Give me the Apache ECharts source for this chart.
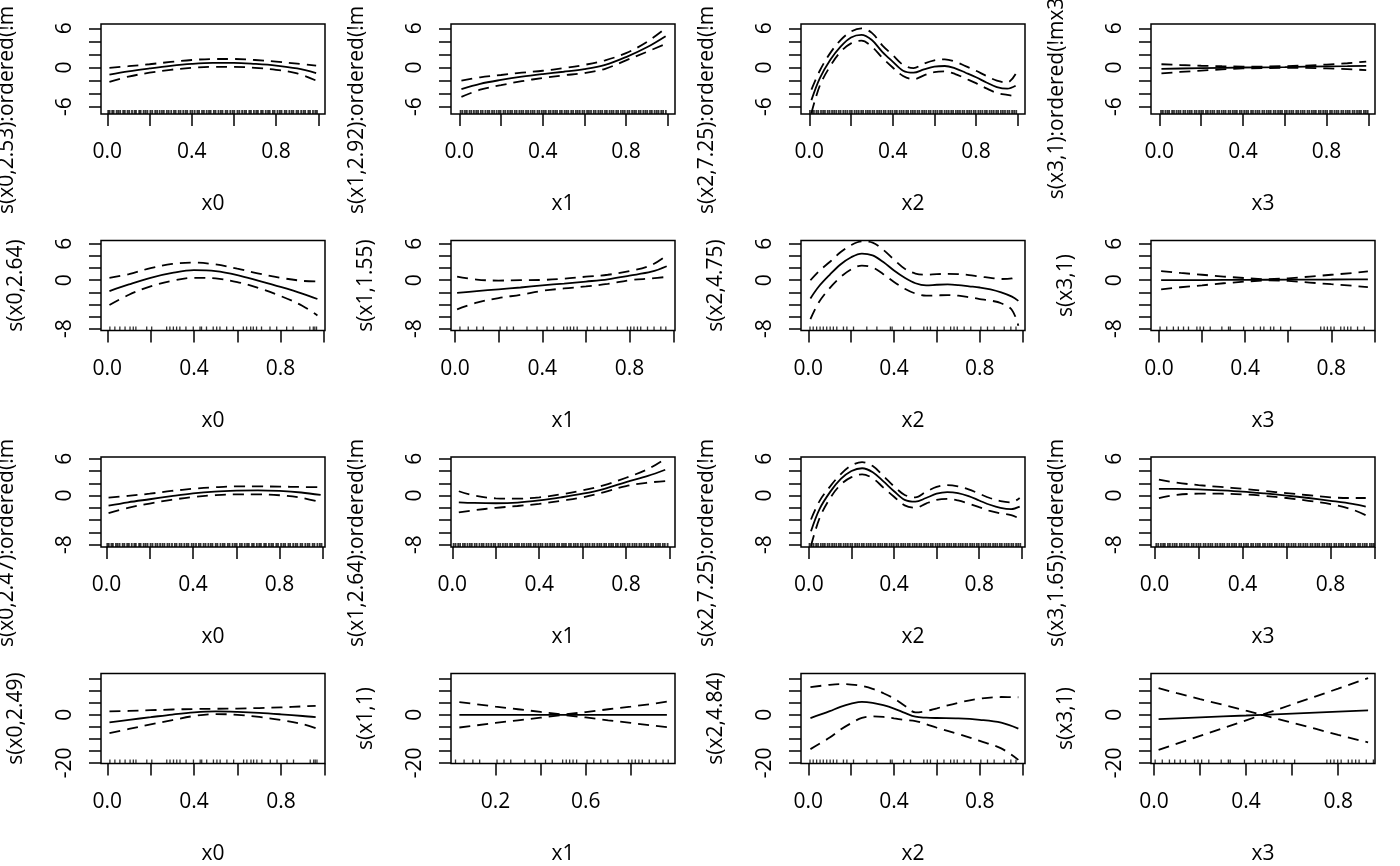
<!DOCTYPE html>
<html>
<head>
<meta charset="utf-8">
<script src="https://cdn.jsdelivr.net/npm/echarts@6/dist/echarts.min.js"></script>
<style>
  html, body { margin: 0; padding: 0; background: #fff; }
  #chart { width: 1400px; height: 866px; }
</style>
</head>
<body>
<div id="chart"></div>
<script>
// --- x positions at which the curves were read ---
var xA = [0.01, 0.1, 0.2, 0.3, 0.4, 0.5, 0.6, 0.7, 0.8, 0.9, 0.99];
var xB = [0.01, 0.05, 0.1, 0.15, 0.2, 0.25, 0.3, 0.35, 0.4, 0.45, 0.5, 0.55, 0.6, 0.65, 0.7, 0.75, 0.8, 0.85, 0.9, 0.95, 0.99];
var xC = [0.01, 0.1, 0.2, 0.3, 0.4, 0.5, 0.6, 0.7, 0.8, 0.9, 0.97];
var xD = [0.01, 0.05, 0.1, 0.15, 0.2, 0.25, 0.3, 0.35, 0.4, 0.45, 0.5, 0.55, 0.6, 0.65, 0.7, 0.75, 0.8, 0.85, 0.9, 0.95, 0.98];
var xE = [0.03, 0.1, 0.2, 0.3, 0.4, 0.5, 0.6, 0.7, 0.8, 0.9, 0.98];
var xF = [0.02, 0.1, 0.2, 0.3, 0.4, 0.5, 0.6, 0.7, 0.8, 0.9, 0.96];
var xG = [0.01, 0.1, 0.2, 0.3, 0.4, 0.5, 0.6, 0.7, 0.8, 0.9, 0.96];
var xH = [0.04, 0.1, 0.2, 0.3, 0.4, 0.5, 0.6, 0.7, 0.8, 0.9, 0.96];
var xI = [0.01, 0.1, 0.15, 0.2, 0.25, 0.3, 0.35, 0.4, 0.45, 0.5, 0.55, 0.6, 0.7, 0.8, 0.9, 0.98];
var xJ = [0.02, 0.1, 0.2, 0.3, 0.4, 0.47, 0.5, 0.6, 0.7, 0.8, 0.93];

// --- row 1 ---
var r1c1Fit = [-1.1, -0.6, -0.15, 0.25, 0.55, 0.7, 0.7, 0.55, 0.3, -0.15, -0.85];
var r1c1Up = [-0.05, 0.2, 0.5, 0.85, 1.15, 1.3, 1.3, 1.15, 0.9, 0.6, 0.3];
var r1c1Lo = [-2.2, -1.4, -0.8, -0.35, -0.05, 0.1, 0.1, -0.05, -0.35, -0.9, -2.0];
var r1c2Fit = [-3.3, -2.5, -1.9, -1.4, -1.0, -0.65, -0.25, 0.4, 1.6, 3.1, 4.8];
var r1c2Up = [-2.0, -1.5, -1.15, -0.8, -0.5, -0.1, 0.4, 1.1, 2.2, 3.9, 6.0];
var r1c2Lo = [-4.5, -3.4, -2.7, -2.1, -1.6, -1.2, -0.85, -0.2, 1.1, 2.4, 3.6];
var r1c3Fit = [-5.0, -1.65, 1.15, 3.2, 4.6, 5.0, 4.2, 2.4, 0.9, -0.5, -0.8, -0.3, 0.13, 0.23, -0.13, -0.8, -1.5, -2.3, -3.0, -3.25, -2.8];
var r1c3Up = [-3.4, -0.5, 2.2, 4.2, 5.5, 6.0, 5.3, 3.4, 1.9, 0.4, -0.1, 0.6, 1.1, 1.25, 0.9, 0.2, -0.5, -1.3, -2.0, -2.3, -1.0];
var r1c3Lo = [-7.0, -2.8, 0.2, 2.4, 3.7, 4.1, 3.2, 1.5, 0.0, -1.3, -1.8, -1.2, -0.7, -0.6, -1.0, -1.7, -2.4, -3.2, -3.9, -4.2, -4.4];
var r1c4Fit = [-0.2, -0.15, -0.1, -0.05, 0.0, 0.03, 0.07, 0.12, 0.16, 0.2, 0.25];
var r1c4Up = [0.5, 0.38, 0.27, 0.19, 0.14, 0.14, 0.2, 0.3, 0.45, 0.65, 0.9];
var r1c4Lo = [-0.9, -0.68, -0.47, -0.29, -0.14, -0.1, -0.06, -0.06, -0.13, -0.25, -0.4];

// --- row 2 ---
var r2c1Fit = [-1.8, -0.7, 0.4, 1.2, 1.65, 1.5, 0.85, -0.1, -1.1, -2.2, -3.1];
var r2c1Up = [0.4, 1.0, 2.0, 2.7, 2.9, 2.6, 1.9, 1.1, 0.4, -0.1, -0.2];
var r2c1Lo = [-4.1, -2.4, -1.0, -0.1, 0.4, 0.3, -0.3, -1.3, -2.6, -4.2, -5.8];
var r2c2Fit = [-2.1, -1.8, -1.5, -1.2, -0.85, -0.55, -0.22, 0.15, 0.75, 1.4, 2.3];
var r2c2Up = [0.6, 0.1, -0.05, 0.0, 0.05, 0.25, 0.58, 0.9, 1.5, 2.5, 4.1];
var r2c2Lo = [-4.8, -3.7, -2.95, -2.4, -1.75, -1.35, -1.02, -0.6, 0.0, 0.3, 0.55];
var r2c3Fit = [-3.0, -1.0, 0.9, 2.6, 3.8, 4.4, 4.1, 3.0, 1.6, 0.4, -0.5, -0.85, -0.75, -0.7, -0.8, -1.0, -1.2, -1.5, -2.0, -2.7, -3.4];
var r2c3Up = [0.0, 1.5, 3.0, 4.6, 5.8, 6.4, 6.2, 5.0, 3.4, 1.9, 1.1, 0.9, 1.0, 1.05, 1.0, 0.85, 0.6, 0.4, 0.2, 0.3, 1.0];
var r2c3Lo = [-6.4, -3.6, -1.3, 0.5, 1.8, 2.4, 2.1, 1.0, -0.3, -1.4, -2.2, -2.55, -2.5, -2.45, -2.55, -2.8, -3.1, -3.35, -3.8, -4.9, -7.5];
var r2c4Fit = [0.0, 0.02, 0.03, 0.05, 0.06, 0.08, 0.09, 0.11, 0.12, 0.14, 0.15];
var r2c4Up = [1.5, 1.2, 0.9, 0.6, 0.35, 0.15, 0.3, 0.6, 0.9, 1.2, 1.45];
var r2c4Lo = [-1.5, -1.16, -0.84, -0.5, -0.23, 0.01, -0.12, -0.38, -0.66, -0.92, -1.15];

// --- row 3 ---
var r3c1Fit = [-1.65, -1.1, -0.6, -0.1, 0.35, 0.65, 0.8, 0.85, 0.75, 0.5, 0.1];
var r3c1Up = [-0.35, -0.05, 0.3, 0.75, 1.1, 1.35, 1.5, 1.5, 1.45, 1.4, 1.35];
var r3c1Lo = [-2.85, -2.0, -1.3, -0.7, -0.25, 0.05, 0.2, 0.2, 0.05, -0.35, -1.1];
var r3c2Fit = [-1.1, -1.2, -1.25, -1.15, -0.8, -0.3, 0.3, 1.1, 2.2, 3.2, 4.2];
var r3c2Up = [0.7, 0.0, -0.45, -0.5, -0.3, 0.2, 0.85, 1.7, 2.9, 4.3, 6.0];
var r3c2Lo = [-2.75, -2.4, -2.0, -1.7, -1.35, -0.85, -0.3, 0.55, 1.55, 2.1, 2.35];
var r3c3Fit = [-5.8, -2.2, 0.6, 2.7, 4.0, 4.45, 3.8, 2.3, 0.7, -0.7, -1.0, -0.4, 0.3, 0.55, 0.4, -0.1, -0.8, -1.5, -2.0, -2.2, -1.8];
var r3c3Up = [-3.9, -0.9, 1.5, 3.5, 4.9, 5.45, 4.8, 3.2, 1.5, 0.1, -0.3, 0.6, 1.4, 1.7, 1.5, 1.0, 0.3, -0.4, -0.9, -1.1, -0.4];
var r3c3Lo = [-8.2, -3.7, -0.4, 1.8, 3.0, 3.45, 2.8, 1.3, -0.2, -1.6, -2.0, -1.3, -0.7, -0.55, -0.8, -1.3, -1.9, -2.5, -2.9, -3.2, -3.75];
var r3c4Fit = [1.1, 1.08, 1.0, 0.85, 0.65, 0.35, 0.0, -0.4, -0.85, -1.35, -1.8];
var r3c4Up = [2.6, 2.1, 1.7, 1.4, 1.1, 0.75, 0.4, 0.05, -0.3, -0.4, -0.4];
var r3c4Lo = [-0.4, 0.1, 0.3, 0.3, 0.2, -0.05, -0.4, -0.85, -1.4, -2.3, -3.2];

// --- row 4 ---
var r4c1Fit = [-3.2, -2.1, -1.0, 0.1, 1.0, 1.4, 1.2, 0.8, 0.2, -0.5, -1.0];
var r4c1Up = [1.4, 1.6, 1.9, 2.2, 2.4, 2.5, 2.6, 2.8, 3.1, 3.5, 3.75];
var r4c1Lo = [-7.6, -5.9, -4.0, -2.2, -0.5, 0.3, 0.0, -0.9, -2.2, -3.9, -5.55];
var r4c2Fit = [0, 0, 0, 0, 0, 0, 0, 0, 0, 0, 0];
var r4c2Up = [5.3, 4.6, 3.4, 2.3, 1.2, 0.1, 1.1, 2.3, 3.4, 4.6, 5.5];
var r4c2Lo = [-5.3, -4.6, -3.4, -2.3, -1.2, -0.1, -1.1, -2.3, -3.4, -4.5, -5.15];
var r4c3Fit = [-1.4, 1.5, 3.3, 4.6, 5.4, 5.0, 4.0, 2.6, 0.8, -0.8, -1.2, -1.35, -1.5, -2.1, -3.3, -5.8];
var r4c3Up = [11.5, 12.5, 12.8, 12.6, 12.0, 10.8, 9.0, 6.8, 3.8, 1.0, 1.5, 2.7, 5.0, 6.7, 7.4, 7.3];
var r4c3Lo = [-14.3, -9.5, -6.2, -3.5, -1.3, -0.7, -0.9, -1.5, -2.2, -2.6, -3.9, -5.4, -8.0, -10.9, -14.0, -18.8];
var r4c4Fit = [-1.8, -1.5, -1.1, -0.7, -0.3, 0.0, 0.1, 0.5, 0.9, 1.3, 1.8];
var r4c4Up = [11.1, 9.0, 6.5, 4.2, 1.7, 0.0, 1.0, 4.3, 7.6, 10.9, 15.3];
var r4c4Lo = [-14.6, -12.0, -8.8, -5.6, -2.3, 0.0, -0.8, -3.3, -5.8, -8.4, -11.5];

// --- rug (observed covariate values) ---
var rugD0 = [0.004,0.011,0.023,0.03,0.044,0.052,0.061,0.075,0.083,0.096,0.104,0.117,0.129,0.136,0.151,0.158,0.172,0.181,0.19,0.204,0.213,0.227,0.236,0.248,0.259,0.268,0.282,0.291,0.303,0.316,0.324,0.338,0.347,0.36,0.371,0.379,0.394,0.403,0.414,0.427,0.435,0.449,0.458,0.471,0.482,0.49,0.505,0.513,0.527,0.538,0.546,0.561,0.569,0.583,0.594,0.602,0.617,0.626,0.639,0.65,0.658,0.673,0.681,0.695,0.706,0.714,0.729,0.737,0.751,0.762,0.77,0.785,0.793,0.807,0.818,0.826,0.841,0.849,0.863,0.874,0.882,0.897,0.905,0.919,0.93,0.938,0.953,0.961,0.975,0.986,0.994];
var rugD1 = [0.006,0.015,0.027,0.036,0.049,0.058,0.07,0.081,0.09,0.103,0.112,0.125,0.136,0.144,0.157,0.167,0.179,0.19,0.198,0.212,0.221,0.233,0.244,0.253,0.266,0.275,0.288,0.298,0.307,0.32,0.33,0.342,0.352,0.361,0.375,0.384,0.396,0.406,0.415,0.429,0.438,0.45,0.46,0.469,0.483,0.492,0.505,0.514,0.523,0.537,0.546,0.559,0.568,0.578,0.591,0.6,0.613,0.622,0.632,0.645,0.654,0.667,0.677,0.686,0.699,0.708,0.721,0.731,0.74,0.753,0.762,0.775,0.785,0.794,0.807,0.816,0.829,0.839,0.848,0.861,0.87,0.883,0.893,0.902,0.915,0.924,0.937,0.947,0.956,0.969,0.978,0.991];
var rugD2 = [0.003,0.013,0.022,0.034,0.043,0.056,0.066,0.075,0.088,0.097,0.109,0.119,0.129,0.141,0.15,0.163,0.173,0.183,0.195,0.204,0.217,0.227,0.237,0.249,0.258,0.271,0.281,0.291,0.303,0.312,0.325,0.335,0.345,0.357,0.366,0.379,0.389,0.399,0.411,0.42,0.433,0.443,0.453,0.465,0.474,0.487,0.497,0.507,0.519,0.528,0.541,0.551,0.561,0.573,0.582,0.595,0.605,0.615,0.627,0.636,0.649,0.659,0.669,0.681,0.69,0.703,0.713,0.723,0.735,0.744,0.757,0.767,0.777,0.789,0.798,0.811,0.821,0.831,0.843,0.852,0.865,0.875,0.885,0.897,0.906,0.919,0.929,0.939,0.951,0.96,0.973,0.983,0.993];
var rugD3 = [0.008,0.017,0.029,0.039,0.047,0.061,0.07,0.082,0.092,0.101,0.115,0.124,0.136,0.146,0.155,0.169,0.178,0.19,0.2,0.209,0.223,0.232,0.244,0.254,0.263,0.277,0.286,0.298,0.308,0.317,0.331,0.34,0.352,0.362,0.371,0.385,0.394,0.406,0.416,0.425,0.439,0.448,0.46,0.47,0.479,0.493,0.502,0.514,0.524,0.533,0.547,0.556,0.568,0.578,0.587,0.601,0.61,0.622,0.632,0.641,0.655,0.664,0.676,0.686,0.695,0.709,0.718,0.73,0.74,0.749,0.763,0.772,0.784,0.794,0.803,0.817,0.826,0.838,0.848,0.857,0.871,0.88,0.892,0.902,0.911,0.925,0.934,0.946,0.956,0.965,0.979,0.988,0.997];
var rugS0 = [0.012,0.035,0.058,0.082,0.105,0.12,0.132,0.182,0.205,0.274,0.289,0.305,0.32,0.335,0.363,0.397,0.428,0.435,0.458,0.489,0.505,0.52,0.551,0.582,0.628,0.643,0.662,0.674,0.689,0.712,0.751,0.782,0.828,0.858,0.935,0.951,0.958,0.966];
var rugS1 = [0.023,0.061,0.1,0.13,0.207,0.238,0.268,0.33,0.376,0.422,0.452,0.498,0.514,0.529,0.544,0.56,0.606,0.636,0.667,0.698,0.744,0.79,0.805,0.82,0.836,0.851,0.882,0.912,0.943,0.966];
var rugS2 = [0.008,0.023,0.039,0.055,0.07,0.086,0.102,0.117,0.133,0.164,0.18,0.211,0.273,0.32,0.383,0.391,0.445,0.477,0.539,0.555,0.57,0.602,0.633,0.664,0.68,0.695,0.727,0.758,0.805,0.836,0.867,0.914,0.945,0.969];
var rugS3 = [0.005,0.036,0.067,0.09,0.114,0.137,0.176,0.191,0.207,0.238,0.292,0.323,0.331,0.393,0.44,0.471,0.487,0.518,0.533,0.565,0.611,0.751,0.767,0.782,0.798,0.813,0.844,0.86,0.876,0.891,0.922,0.953];

// --- axes ---
var xNames = ['x0', 'x1', 'x2', 'x3'];
var yTitles = [
  ['s(x0,2.53):ordered(!mx3)', 's(x1,2.92):ordered(!mx3)', 's(x2,7.25):ordered(!mx3)', 's(x3,1):ordered(!mx3)'],
  ['s(x0,2.64)', 's(x1,1.55)', 's(x2,4.75)', 's(x3,1)'],
  ['s(x0,2.47):ordered(!mx3)', 's(x1,2.64):ordered(!mx3)', 's(x2,7.25):ordered(!mx3)', 's(x3,1.65):ordered(!mx3)'],
  ['s(x0,2.49)', 's(x1,1)', 's(x2,4.84)', 's(x3,1)']
];
var xTicksFull = [0, 0.2, 0.4, 0.6, 0.8, 1.0];
var xLabelsFull = [0, 0.4, 0.8];
var xTicksR4C2 = [0.2, 0.4, 0.6, 0.8];
var xLabelsR4C2 = [0.2, 0.6];
var xTicksR4C4 = [0, 0.2, 0.4, 0.6, 0.8];
var yTicksByRow = [[-6, -4, -2, 0, 2, 4, 6], [-8, -6, -4, -2, 0, 2, 4, 6], [-8, -6, -4, -2, 0, 2, 4, 6], [-20, -15, -10, -5, 0, 5, 10, 15]];
var yLabelsByRow = [[-6, 0, 6], [-8, 0, 6], [-8, 0, 6], [-20, 0]];
var yRangeByRow = [[-7.12, 6.66], [-8.29, 6.55], [-8.38, 6.28], [-20.3, 17.2]];
var xRanges = [
  [[-0.03, 1.032], [-0.04, 1.035], [-0.04, 1.035], [-0.04, 1.032]],
  [[-0.029, 1.005], [-0.018, 1.008], [-0.034, 1.011], [-0.037, 1.003]],
  [[-0.025, 1.01], [-0.006, 1.025], [-0.037, 1.015], [-0.016, 1.002]],
  [[-0.029, 1.003], [0.003, 0.996], [-0.034, 1.011], [-0.013, 0.96]]
];

var panelData = [
  [[xA, r1c1Fit, r1c1Up, r1c1Lo], [xA, r1c2Fit, r1c2Up, r1c2Lo], [xB, r1c3Fit, r1c3Up, r1c3Lo], [xA, r1c4Fit, r1c4Up, r1c4Lo]],
  [[xC, r2c1Fit, r2c1Up, r2c1Lo], [xC, r2c2Fit, r2c2Up, r2c2Lo], [xD, r2c3Fit, r2c3Up, r2c3Lo], [xC, r2c4Fit, r2c4Up, r2c4Lo]],
  [[xA, r3c1Fit, r3c1Up, r3c1Lo], [xE, r3c2Fit, r3c2Up, r3c2Lo], [xB, r3c3Fit, r3c3Up, r3c3Lo], [xF, r3c4Fit, r3c4Up, r3c4Lo]],
  [[xG, r4c1Fit, r4c1Up, r4c1Lo], [xH, r4c2Fit, r4c2Up, r4c2Lo], [xI, r4c3Fit, r4c3Up, r4c3Lo], [xJ, r4c4Fit, r4c4Up, r4c4Lo]]
];
var straightPanels = { '0-3': 1, '1-3': 1, '3-1': 1, '3-3': 1 };
var rugsDense = [rugD0, rugD1, rugD2, rugD3];
var rugsSparse = [rugS0, rugS1, rugS2, rugS3];

(function() {
  var FONT = '"Open Sans", "Noto Sans", sans-serif';
  var FS = 21;
  var boxLeft = 101, colStep = 350, boxW = 224;
  var boxTop = 24, rowStep = 216.5, boxH = 90;

  var ctx = document.createElement('canvas').getContext('2d');
  ctx.font = FS + 'px ' + FONT;
  var refW = ctx.measureText('s(x0,2.53)').width;

  var grids = [], xAxes = [], yAxes = [], series = [], graphics = [];

  function pairs(xs, ys) {
    return xs.map(function(x, k) { return [x, ys[k]]; });
  }

  for (var r = 0; r < 4; r++) {
    for (var c = 0; c < 4; c++) {
      var i = grids.length;
      var left = boxLeft + c * colStep;
      var top = boxTop + r * rowStep;
      var dense = (r === 0 || r === 2);
      grids.push({
        left: left, top: top, width: boxW, height: boxH,
        show: true, borderColor: '#000', borderWidth: 1.5, backgroundColor: 'transparent'
      });

      var xt = xTicksFull, xl = xLabelsFull;
      if (r === 3 && c === 1) { xt = xTicksR4C2; xl = xLabelsR4C2; }
      if (r === 3 && c === 3) { xt = xTicksR4C4; }
      var xr = xRanges[r][c];
      var yr = yRangeByRow[r];

      xAxes.push({
        gridIndex: i, type: 'value', position: 'bottom', min: xr[0], max: xr[1],
        axisLine: { show: false, onZero: false }, splitLine: { show: false },
        axisTick: { show: true, length: 12, lineStyle: { color: '#000', width: 1.5 }, customValues: xt },
        axisLabel: {
          customValues: xl, margin: 28, color: '#000', fontSize: FS, fontFamily: FONT,
          formatter: function(v) { return Number(v).toFixed(1); }
        },
        name: xNames[c], nameLocation: 'middle', nameGap: 80,
        nameTextStyle: { color: '#000', fontSize: FS, fontFamily: FONT }
      });
      yAxes.push({
        gridIndex: i, type: 'value', position: 'left', min: yr[0], max: yr[1],
        axisLine: { show: false, onZero: false }, splitLine: { show: false },
        axisTick: { show: true, length: 12, lineStyle: { color: '#000', width: 1.5 }, customValues: yTicksByRow[r] },
        axisLabel: {
          customValues: yLabelsByRow[r], rotate: 90, margin: 25, color: '#000', fontSize: FS, fontFamily: FONT,
          formatter: function(v) { return String(Math.round(v)); }
        }
      });

      var pd = panelData[r][c];
      var smooth = straightPanels[r + '-' + c] ? false : 0.35;
      series.push({
        type: 'line', xAxisIndex: i, yAxisIndex: i, data: pairs(pd[0], pd[1]),
        showSymbol: false, symbol: 'none', smooth: smooth, silent: true,
        lineStyle: { color: '#000', width: 1.8 }
      });
      [pd[2], pd[3]].forEach(function(band) {
        series.push({
          type: 'line', xAxisIndex: i, yAxisIndex: i, data: pairs(pd[0], band),
          showSymbol: false, symbol: 'none', smooth: smooth, silent: true,
          lineStyle: { color: '#000', width: 1.8, type: [11, 7] }
        });
      });
      var rug = dense ? rugsDense[c] : rugsSparse[c];
      series.push({
        type: 'scatter', xAxisIndex: i, yAxisIndex: i, silent: true,
        data: rug.map(function(x) { return [x, yr[0]]; }),
        symbol: 'rect', symbolSize: dense ? [1.8, 4] : [1.3, 4], symbolOffset: [0, -2],
        itemStyle: { color: '#000' }
      });

      // y titles
      var title = yTitles[r][c];
      var midY = top + boxH / 2;
      if (dense) {
        var prefix = title.split(':')[0];
        var pw = ctx.measureText(prefix).width;
        var bottom = midY + 145 - (refW - pw) / 2;
        var regionTop = r * rowStep;
        graphics.push({
          type: 'text', x: left - 93.5, y: bottom, rotation: Math.PI / 2, silent: true,
          style: {
            text: title, fill: '#000', font: FS + 'px ' + FONT,
            align: 'left', verticalAlign: 'middle', textAlign: 'left', textVerticalAlign: 'middle',
            width: bottom - regionTop + 4, overflow: 'truncate', ellipsis: ''
          }
        });
      } else {
        graphics.push({
          type: 'text', x: left - 85, y: midY, rotation: Math.PI / 2, silent: true,
          style: {
            text: title, fill: '#000', font: FS + 'px ' + FONT,
            align: 'center', verticalAlign: 'middle', textAlign: 'center', textVerticalAlign: 'middle'
          }
        });
      }
    }
  }

  var chart = echarts.init(document.getElementById('chart'));
  chart.setOption({
    animation: false,
    backgroundColor: '#fff',
    grid: grids,
    xAxis: xAxes,
    yAxis: yAxes,
    series: series,
    graphic: graphics
  });
  window.addEventListener('resize', function() { chart.resize(); });
})();
</script>
</body>
</html>
